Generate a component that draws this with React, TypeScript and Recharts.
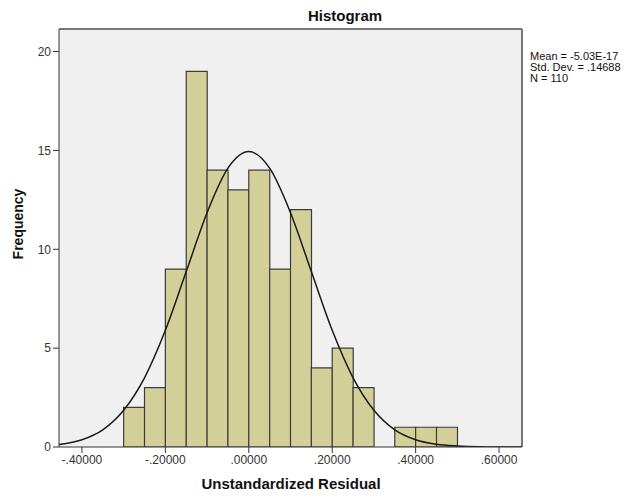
import React from "react";
import {
  Bar,
  CartesianGrid,
  ComposedChart,
  Line,
  ReferenceLine,
  XAxis,
  YAxis,
} from "recharts";

// histogram bins (lower edge) and counts
const binStarts = [
  -0.3, -0.25, -0.2, -0.15, -0.1, -0.05, 0, 0.05, 0.1, 0.15, 0.2, 0.25, 0.3,
  0.35, 0.4, 0.45,
];
const frequencies = [2, 3, 9, 19, 14, 13, 14, 9, 12, 4, 5, 3, 0, 1, 1, 1];
const binWidth = 0.05;

// fitted normal curve
const curveX = [
  -0.455, -0.4, -0.35, -0.3, -0.25, -0.2, -0.15, -0.1, -0.05, 0, 0.05, 0.1,
  0.15, 0.2, 0.25, 0.3, 0.35, 0.4, 0.45, 0.5, 0.55, 0.6, 0.655,
];
const curveY = [
  0.12, 0.37, 0.87, 1.86, 3.5, 5.9, 8.87, 11.85, 14.1, 14.94, 14.1, 11.85,
  8.87, 5.9, 3.5, 1.86, 0.87, 0.37, 0.14, 0.05, 0.01, 0, 0,
];

const xTicks = [-0.4, -0.2, 0, 0.2, 0.4, 0.6];
const yTicks = [0, 5, 10, 15, 20];
const statLines = ["Mean = -5.03E-17", "Std. Dev. = .14688", "N = 110"];

const xDomain: [number, number] = [-0.455, 0.655];
const yDomain: [number, number] = [0, 21.14];

const bins = binStarts.map((s, i) => ({
  mid: s + binWidth / 2,
  freq: frequencies[i],
}));
const curve = curveX.map((x, i) => ({ x, y: curveY[i] }));

const fmt = (v: number) => v.toFixed(5).replace("0.", ".");

const font = "Arial, 'Liberation Sans', sans-serif";

export default function App() {
  return (
    <div
      style={{
        position: "absolute",
        left: 0,
        top: 0,
        width: 631,
        height: 498,
        background: "#fff",
        fontFamily: font,
      }}
    >
      <ComposedChart
        width={631}
        height={498}
        data={bins}
        margin={{ top: 29, right: 109, bottom: 21, left: 19 }}
        barCategoryGap={0}
        barGap={0}
      >
        <CartesianGrid
          horizontal={false}
          vertical={false}
          fill="#f0f0f0"
          xAxisId="main"
        />
        <XAxis
          xAxisId="bins"
          dataKey="mid"
          type="number"
          domain={xDomain}
          allowDataOverflow
          hide
          height={0}
        />
        <XAxis
          xAxisId="main"
          dataKey="x"
          type="number"
          domain={xDomain}
          allowDataOverflow
          ticks={xTicks}
          tickFormatter={fmt}
          height={30}
          tick={{ fontSize: 12, fill: "#333", fontFamily: font }}
          tickLine={{ stroke: "#333" }}
          axisLine={{ stroke: "#333" }}
          tickSize={6}
        />
        <YAxis
          type="number"
          domain={yDomain}
          allowDataOverflow
          ticks={yTicks}
          width={40}
          tick={{ fontSize: 12, fill: "#333", fontFamily: font }}
          tickLine={{ stroke: "#333" }}
          axisLine={{ stroke: "#333" }}
          tickSize={6}
        />
        <ReferenceLine xAxisId="main" y={yDomain[1]} stroke="#777" strokeWidth={2} />
        <ReferenceLine xAxisId="main" x={xDomain[1]} stroke="#777" strokeWidth={2} />
        <Bar
          xAxisId="bins"
          dataKey="freq"
          fill="#d3cf98"
          stroke="#3c3c3c"
          strokeWidth={1.2}
          isAnimationActive={false}
        />
        <Line
          xAxisId="main"
          data={curve}
          dataKey="y"
          type="monotone"
          stroke="#1a1a1a"
          strokeWidth={1.5}
          dot={false}
          isAnimationActive={false}
        />
        <text
          x={345}
          y={21}
          textAnchor="middle"
          fontSize={15}
          fontWeight="bold"
          fontFamily={font}
          fill="#111"
        >
          Histogram
        </text>
        <text
          x={291}
          y={489}
          textAnchor="middle"
          fontSize={15}
          fontWeight="bold"
          fontFamily={font}
          fill="#111"
        >
          Unstandardized Residual
        </text>
        <text
          x={0}
          y={0}
          transform="translate(23,224) rotate(-90)"
          textAnchor="middle"
          fontSize={14}
          fontWeight="bold"
          fontFamily={font}
          fill="#111"
        >
          Frequency
        </text>
        {statLines.map((s, i) => (
          <text
            key={s}
            x={530}
            y={60 + i * 11}
            fontSize={11}
            fontFamily={font}
            fill="#111"
          >
            {s}
          </text>
        ))}
      </ComposedChart>
    </div>
  );
}
